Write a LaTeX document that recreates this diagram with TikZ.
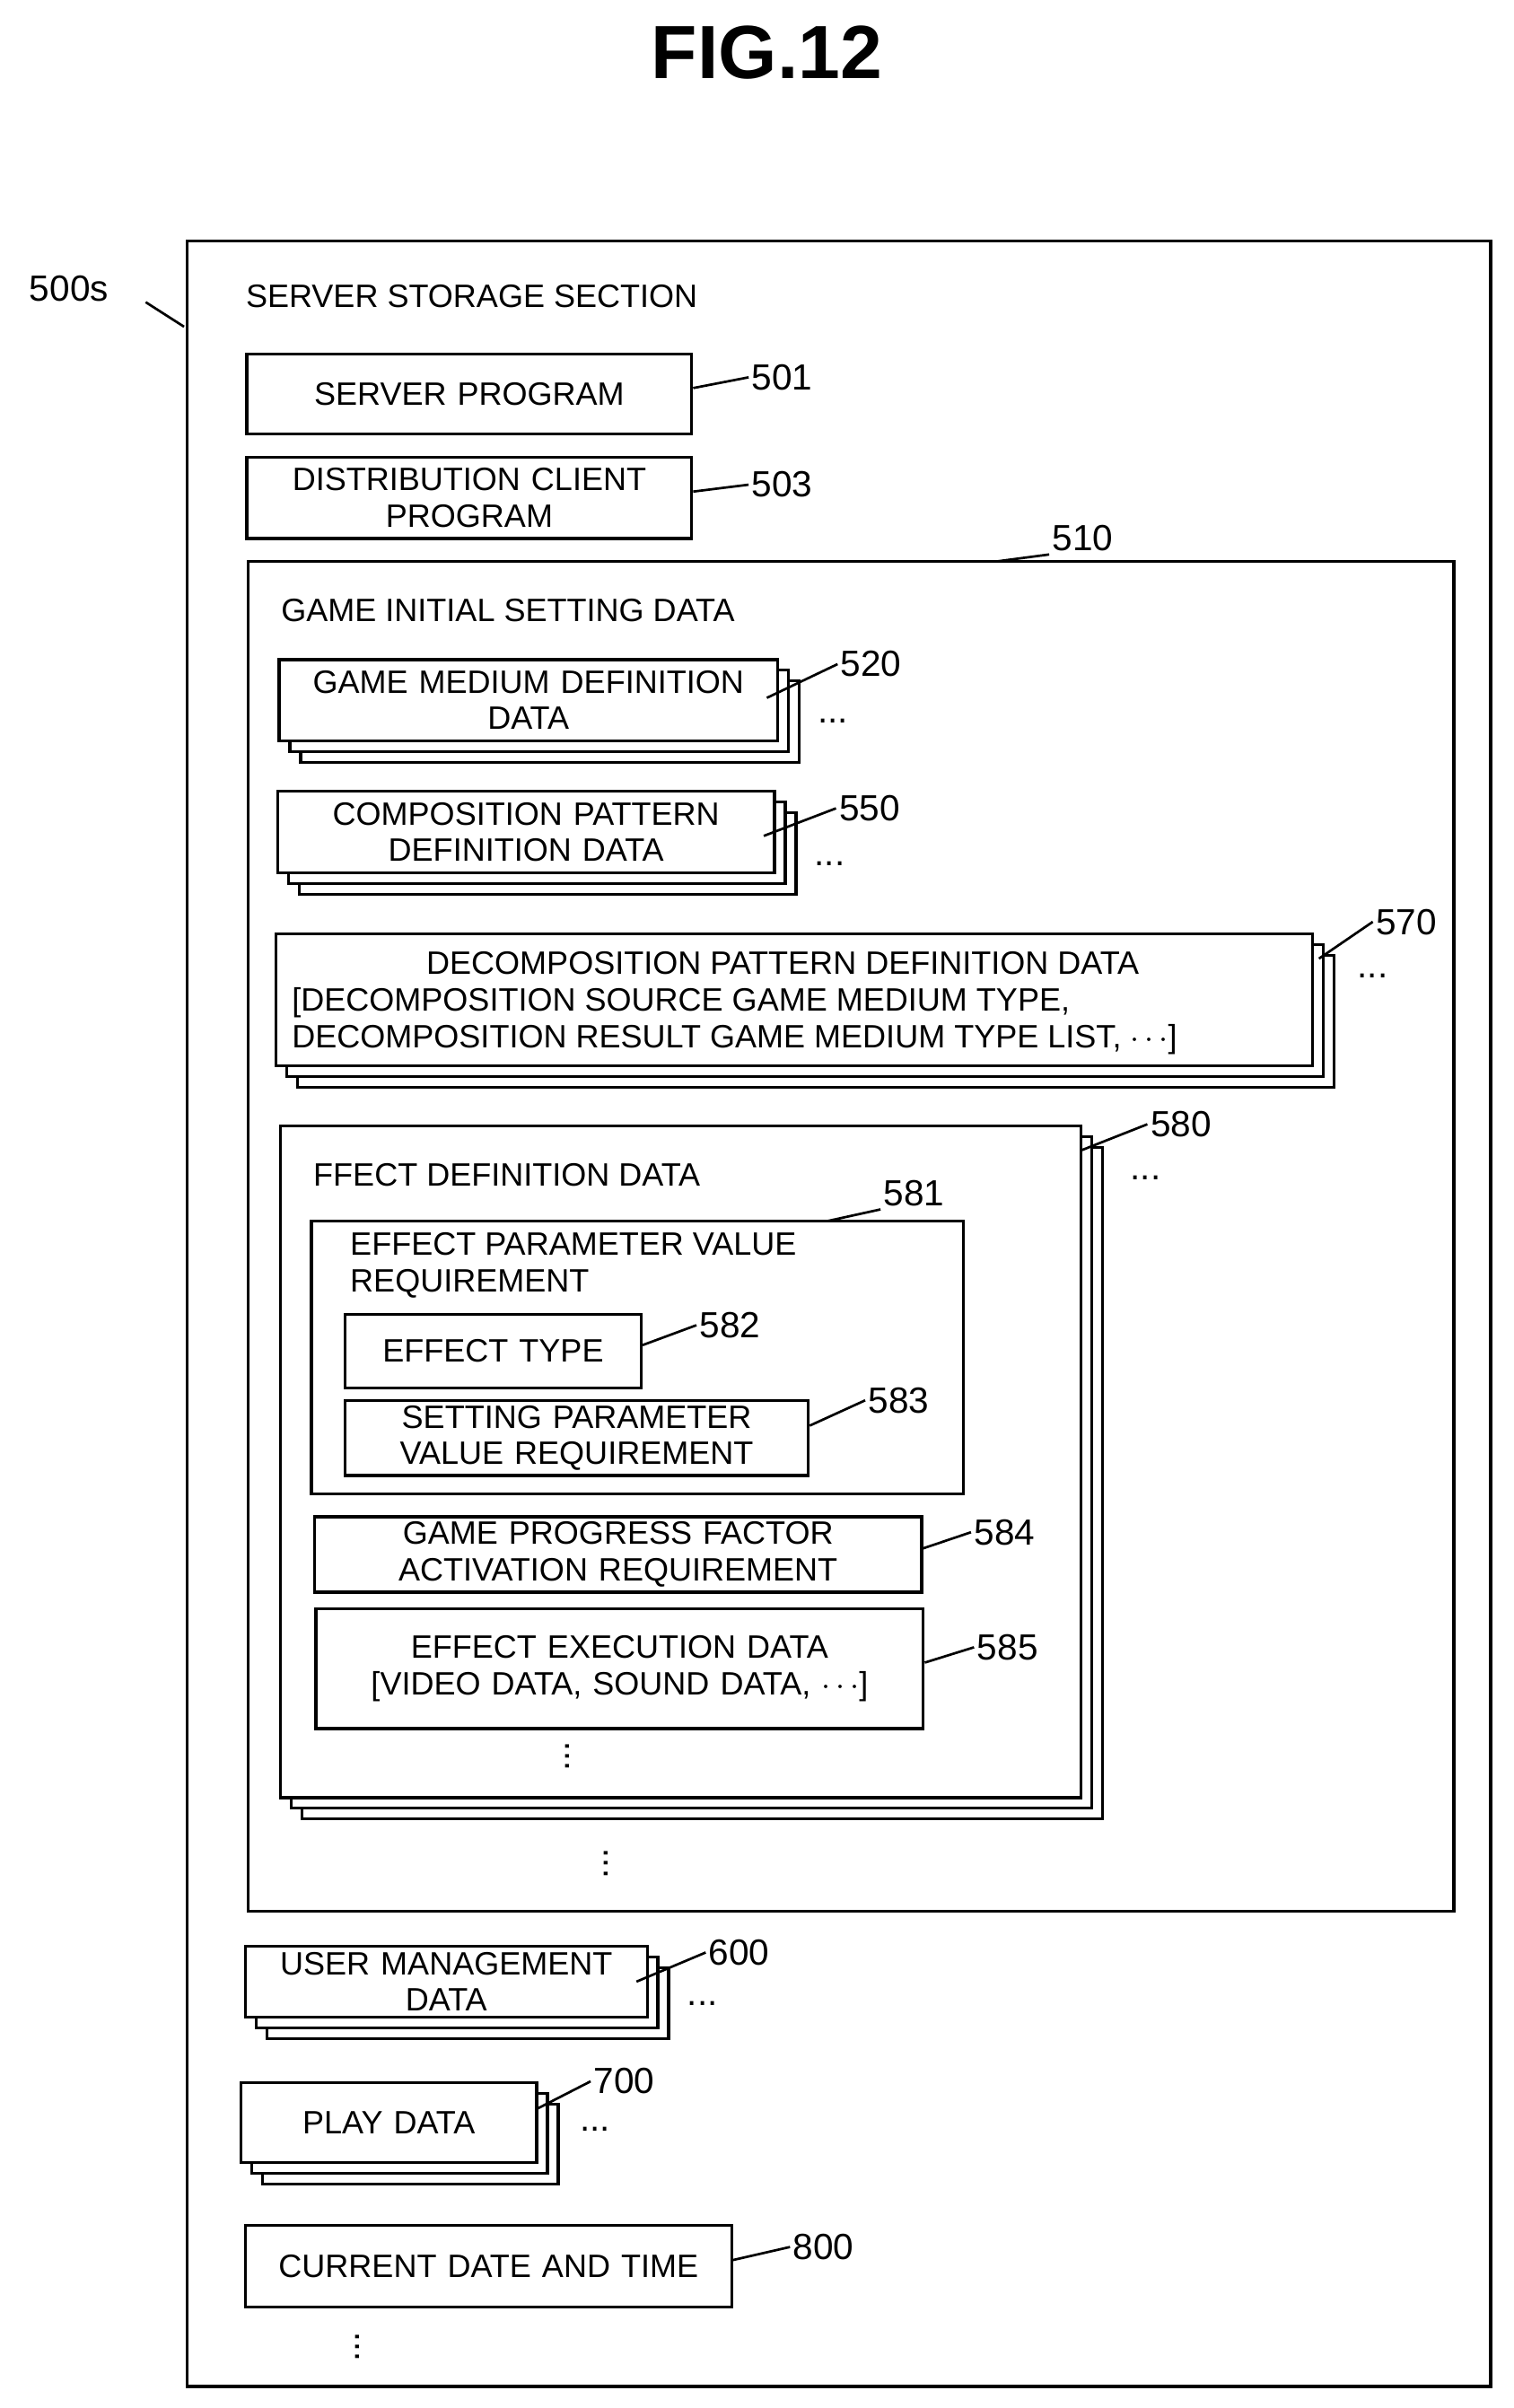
\documentclass[tikz,border=0pt]{standalone}
\usepackage{fontspec}
\setmainfont{Liberation Sans}
\begin{document}
\begin{tikzpicture}[x=0.02cm,y=-0.02cm,
  box/.style={draw,line width=1.1pt,fill=white,align=center,inner sep=0pt,font=\fontsize{12}{13.5}\selectfont},
  lbl/.style={font=\fontsize{13.5}{15}\selectfont,inner sep=1pt},
  txt/.style={font=\fontsize{12}{13.5}\selectfont,inner sep=0pt,anchor=west,align=left},
  ld/.style={line width=0.9pt}]
\newcommand\bx[6]{\node[box,minimum width={(#4-#2)*0.02cm},minimum height={(#5-#3)*0.02cm},text width={(#4-#2)*0.02cm-8pt}] (#1) at ({(#2+#4)/2},{(#3+#5)/2}) {#6};}
\newcommand\stk[4]{\foreach \d in {14,7}{\draw[line width=1.1pt,fill=white] (#1+\d,#2+\d) rectangle (#3+\d,#4+\d);}}
\useasboundingbox (0,0) rectangle (987,1570);
\node[font=\bfseries\fontsize{28}{30}\selectfont] (title) at (500,34) {FIG.12};
% outer
\draw[line width=1.1pt] (122,157) rectangle (972,1556);
\node[lbl] (l500) at (45,188) {500s};
\draw[ld] (95,197) -- (120,213);
\node[txt] (sss) at (160,193) {SERVER STORAGE SECTION};
\bx{b501}{161}{231}{451}{283}{SERVER PROGRAM}
\node[lbl] (l501) at (510,246) {501};
\draw[ld] (b501.east)++(0,-4) -- (l501.west);
\bx{b503}{161}{298}{451}{351}{DISTRIBUTION CLIENT\\PROGRAM}
\node[lbl] (l503) at (510,316) {503};
\draw[ld] (b503.east)++(0,-4) -- (l503.west);
% 510
\draw[line width=1.1pt] (162,366) rectangle (948,1246);
\node[lbl] (l510) at (706,351) {510};
\draw[ld] (650,366) -- (l510.south west);
\node[txt] (gis) at (183,398) {GAME INITIAL SETTING DATA};
% 520
\stk{182}{430}{507}{483}
\bx{b520}{182}{430}{507}{483}{GAME MEDIUM DEFINITION\\DATA}
\node[lbl] (l520) at (568,433) {520};
\draw[ld] (500,455) -- (l520.west);
\node[lbl] (d520) at (543,470) {...};
% 550
\stk{181}{516}{505}{569}
\bx{b550}{181}{516}{505}{569}{COMPOSITION PATTERN\\DEFINITION DATA}
\node[lbl] (l550) at (567,527) {550};
\draw[ld] (498,545) -- (l550.west);
\node[lbl] (d550) at (541,563) {...};
% 570
\stk{180}{609}{856}{695}
\draw[line width=1.1pt,fill=white] (180,609) rectangle (856,695);
\node[txt,align=left] (t570) at (190,654) {\makebox[640\dimexpr0.02cm\relax]{DECOMPOSITION PATTERN DEFINITION DATA}\\{}[DECOMPOSITION SOURCE GAME MEDIUM TYPE,\\DECOMPOSITION RESULT GAME MEDIUM TYPE LIST, $\cdots$]};
\node[lbl] (l570) at (917,601) {570};
\draw[ld] (860,625) -- (l570.west);
\node[lbl] (d570) at (895,636) {...};
% 580
\stk{183}{734}{705}{1172}
\draw[line width=1.1pt,fill=white] (183,734) rectangle (705,1172);
\node[lbl] (l580) at (770,733) {580};
\draw[ld] (705,750) -- (l580.west);
\node[lbl] (d580) at (747,768) {...};
\node[txt] (fdd) at (204,766) {FFECT DEFINITION DATA};
% 581
\draw[line width=1.1pt] (203,796) rectangle (628,974);
\node[lbl] (l581) at (596,778) {581};
\draw[ld] (540,796) -- (l581.south west);
\node[txt] (epv) at (228,825) {EFFECT PARAMETER VALUE\\REQUIREMENT};
\bx{b582}{225}{857}{418}{905}{EFFECT TYPE}
\node[lbl] (l582) at (476,864) {582};
\draw[ld] (b582.east)++(0,-4) -- (l582.west);
\bx{b583}{225}{913}{527}{962}{SETTING PARAMETER\\VALUE REQUIREMENT}
\node[lbl] (l583) at (586,913) {583};
\draw[ld] (b583.east)++(0,-8) -- (l583.west);
\bx{b584}{205}{989}{601}{1038}{GAME PROGRESS FACTOR\\ACTIVATION REQUIREMENT}
\node[lbl] (l584) at (655,999) {584};
\draw[ld] (b584.east)++(0,-4) -- (l584.west);
\bx{b585}{206}{1049}{602}{1127}{EFFECT EXECUTION DATA\\{}[VIDEO DATA, SOUND DATA, $\cdots$]}
\node[lbl] (l585) at (657,1074) {585};
\draw[ld] (b585.east)++(0,-4) -- (l585.west);
\node[lbl,rotate=90] (v1) at (370,1145) {...};
\node[lbl,rotate=90] (v2) at (395,1215) {...};
% 600
\stk{160}{1269}{422}{1315}
\bx{b600}{160}{1269}{422}{1315}{USER MANAGEMENT\\DATA}
\node[lbl] (l600) at (482,1273) {600};
\draw[ld] (415,1292) -- (l600.west);
\node[lbl] (d600) at (458,1306) {...};
% 700
\stk{157}{1358}{350}{1410}
\bx{b700}{157}{1358}{350}{1410}{PLAY DATA}
\node[lbl] (l700) at (407,1357) {700};
\draw[ld] (350,1375) -- (l700.west);
\node[lbl] (d700) at (388,1388) {...};
% 800
\bx{b800}{160}{1451}{477}{1504}{CURRENT DATE AND TIME}
\node[lbl] (l800) at (537,1465) {800};
\draw[ld] (b800.east)++(0,-4) -- (l800.west);
\node[lbl,rotate=90] (v3) at (233,1530) {...};
\end{tikzpicture}
\end{document}
